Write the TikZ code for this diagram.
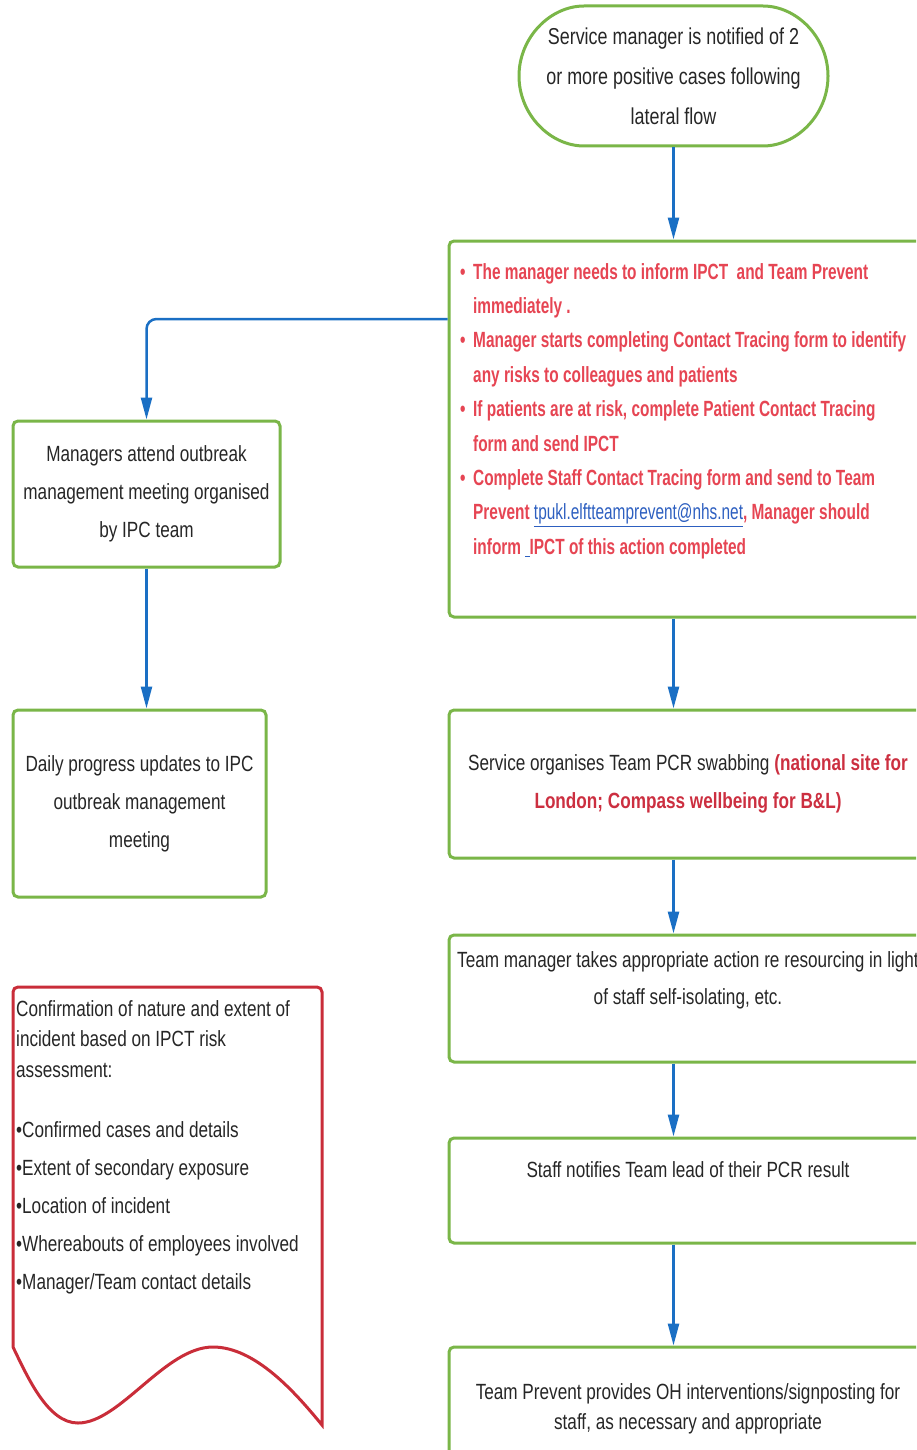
\documentclass[tikz,border=0pt]{standalone}
\usepackage{fontspec}
\setmainfont{Liberation Sans}[FakeStretch=0.78]
\newfontfamily\boldnarrow{Liberation Sans}[FakeStretch=0.70]
\usetikzlibrary{positioning,shapes.misc,arrows.meta}

\definecolor{lgreen}{HTML}{7AB648}
\definecolor{lblue}{HTML}{1A6FC4}
\definecolor{lred}{HTML}{C92D39}
\definecolor{pinkred}{HTML}{E64553}
\definecolor{darkred}{HTML}{CC2F40}
\definecolor{txtgray}{HTML}{262626}
\definecolor{linkblue}{HTML}{2D5FC0}

\newcommand{\bulitem}{\makebox[13pt][l]{•}}
\newcommand{\bulcont}{\hspace*{13pt}}

\begin{document}
\begin{tikzpicture}[
        x=1pt,y=-1pt,
        every node/.style={inner sep=0pt,text=txtgray},
        box/.style={draw=lgreen,line width=3pt,rounded corners=5pt},
        body/.style={font=\fontsize{22}{38}\selectfont,align=center},
        arr/.style={draw=lblue,line width=2.5pt,-{Triangle[length=22pt,width=11pt]}}
    ]
    \useasboundingbox (0,0) rectangle (916,1450);
    \clip (0,0) rectangle (916,1450);

    \node[box,body,rounded rectangle,minimum width=309pt,minimum height=140pt,
        font=\fontsize{23}{40}\selectfont] (notified) at (673.5,76)
        {Service manager is notified of 2\\or more positive cases following\\lateral flow};

    \node[box,minimum width=478pt,minimum height=376pt] (inform) at (688,429) {};
    \node[anchor=north west,align=left,text=pinkred,
        font=\boldnarrow\bfseries\fontsize{22}{34.4}\selectfont] (informtxt) at (460,263)
        {\bulitem The manager needs to inform IPCT\ \ and Team Prevent\\
         \bulcont immediately .\\
         \bulitem Manager starts completing Contact Tracing form to identify\\
         \bulcont any risks to colleagues and patients\\
         \bulitem If patients are at risk, complete Patient Contact Tracing\\
         \bulcont form and send IPCT\\
         \bulitem Complete Staff Contact Tracing form and send to Team\\
         \bulcont Prevent {\mdseries\color{linkblue}\underline{tpukl.elftteamprevent@nhs.net}}, Manager should\\
         \bulcont inform {\color{linkblue}\underline{\ }}IPCT of this action completed};

    \node[box,body,minimum width=267pt,minimum height=146pt] (meeting) at (146.5,494)
        {Managers attend outbreak\\management meeting organised\\by IPC team};
    \node[box,body,minimum width=253pt,minimum height=187pt] (daily) at (139.5,803.5)
        {Daily progress updates to IPC\\outbreak management\\meeting};

    \node[box,body,minimum width=478pt,minimum height=148pt] (swab) at (688,784)
        {Service organises Team PCR swabbing {\bfseries\color{darkred}(national site for}\\
         {\bfseries\color{darkred}London; Compass wellbeing for B\&L)}};

    \node[box,minimum width=478pt,minimum height=127pt] (resourcing) at (688,998.5) {};
    \node[body,anchor=north,font=\fontsize{22}{37}\selectfont] (resourcingtxt) at (688,951)
        {Team manager takes appropriate action re resourcing in light\\of staff self-isolating, etc.};

    \node[box,minimum width=478pt,minimum height=105pt] (result) at (688,1190.5) {};
    \node[body,anchor=north] (resulttxt) at (688,1161)
        {Staff notifies Team lead of their PCR result};

    \node[box,minimum width=478pt,minimum height=146pt] (ohsupport) at (688,1420) {};
    \node[body,anchor=north,font=\fontsize{22}{30}\selectfont] (ohsupporttxt) at (688,1383)
        {Team Prevent provides OH interventions/signposting for\\staff, as necessary and appropriate};

    \draw[draw=lred,line width=3pt] (13,1347) {[rounded corners=5pt] -- (13,987) -- (322,987)} -- (322,1425)
        .. controls (295,1392) and (255,1347) .. (213,1347)
        .. controls (165,1347) and (120,1423) .. (78,1423)
        .. controls (48,1423) and (28,1378) .. (13,1347);
    \node[anchor=north west,align=left,font=\fontsize{22}{30.5}\selectfont] (incident) at (16,1000)
        {Confirmation of nature and extent of\\incident based on IPCT risk\\assessment:\\[29.5pt]
         •Confirmed cases and details\\[7.5pt]
         •Extent of secondary exposure\\[7.5pt]
         •Location of incident\\[7.5pt]
         •Whereabouts of employees involved\\[7.5pt]
         •Manager/Team contact details};

    \draw[arr] (notified.south) -- (notified.south |- inform.north);
    \draw[arr,rounded corners=10pt] ([yshift=110pt]inform.west) -| (meeting.north);
    \draw[arr] (meeting.south) -- (meeting.south |- daily.north);
    \draw[arr] (notified.south |- inform.south) -- (notified.south |- swab.north);
    \draw[arr] (notified.south |- swab.south) -- (notified.south |- resourcing.north);
    \draw[arr] (notified.south |- resourcing.south) -- (notified.south |- result.north);
    \draw[arr] (notified.south |- result.south) -- (notified.south |- ohsupport.north);
\end{tikzpicture}
\end{document}
